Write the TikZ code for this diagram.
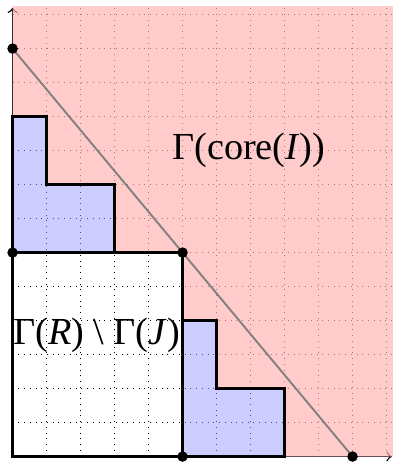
\documentclass[tikz,border=0pt]{standalone}
\usepackage{fontspec}
\setmainfont{Liberation Serif}

\begin{document}
\begin{tikzpicture}[x=0.5cm, y=0.5cm,
    pt/.style={circle, fill=black, inner sep=0pt, minimum size=4.4pt},
    region/.style={draw=black, very thick},
    lbl/.style={font=\fontsize{16}{19}\selectfont, anchor=base}]
    \useasboundingbox (-0.37,-0.16) rectangle (11.19,13.43);

    % Grid and axes, tinted later by the regions on top
    \draw[dotted, black, step=0.5cm] (0,0) grid (11.2,13.2);
    \draw[->, semithick] (0,0) -- (11.15,0);
    \draw[->, semithick] (0,0) -- (0,13.2);

    % Region above the staircase
    \fill[red!30, fill opacity=0.67] (0,10) -- (0,13.25) -- (11.2,13.25) -- (11.2,0)
        -- (8,0) -- (8,2) -- (6,2) -- (6,4) -- (5,4) -- (5,6) -- (3,6) -- (3,8)
        -- (1,8) -- (1,10) -- cycle;

    % Two staircases and the box
    \filldraw[region, fill=blue!40, fill opacity=0.5] (0,6) -- (0,10) -- (1,10) -- (1,8) -- (3,8) -- (3,6) -- cycle;
    \filldraw[region, fill=blue!40, fill opacity=0.5] (5,0) -- (5,4) -- (6,4) -- (6,2) -- (8,2) -- (8,0) -- cycle;
    \draw[region] (0,0) rectangle (5,6);

    % Diagonal through the corners
    \coordinate (top) at (0,12);
    \coordinate (mid) at (5,6);
    \coordinate (end) at (10,0);
    \coordinate (rtop) at (0,6);
    \coordinate (rbot) at (5,0);
    \draw[gray, thick] (top) -- (mid) -- (end);
    \foreach \p in {top,mid,end,rtop,rbot}
        \node[pt] (\p-dot) at (\p) {};

    % Labels
    \node[lbl] (core) at (6.95,8.73) {Γ(core(\textit{I}))};
    \node[lbl] (diff) at (2.47,3.29) {Γ(\textit{R}) \textbackslash{} Γ(\textit{J})};
\end{tikzpicture}
\end{document}
